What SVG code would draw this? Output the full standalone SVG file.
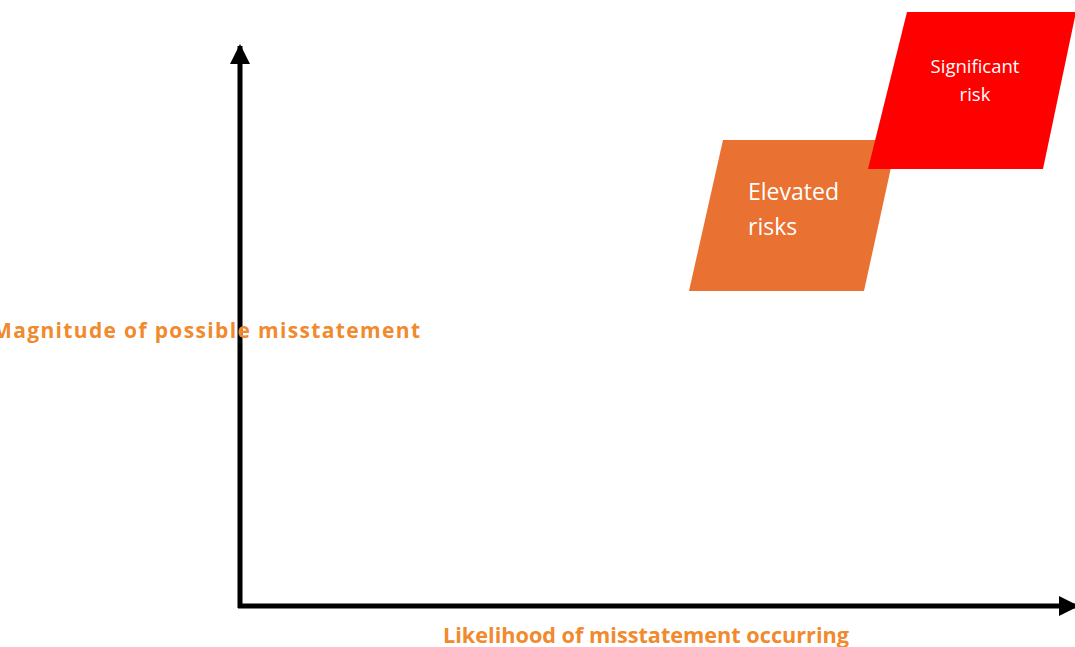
<svg xmlns="http://www.w3.org/2000/svg" width="1075" height="647" viewBox="0 0 1075 647">
<style>
.axis{stroke:#000;stroke-width:5;fill:none}
.lbl{font-family:"Open Sans","Liberation Sans",sans-serif;font-weight:bold;fill:#F08A2D;font-size:21px}
.wt{font-family:"Open Sans","Liberation Sans",sans-serif;fill:#fff}
</style>
<defs>
<marker id="ah" viewBox="0 0 10 10" refX="9" refY="5" markerWidth="4" markerHeight="4" orient="auto" markerUnits="strokeWidth">
<path d="M0,0 L10,5 L0,10 z" fill="#000"/>
</marker>
</defs>
<rect width="1075" height="647" fill="#fff"/>
<g id="connectors">
<line class="axis" x1="240" y1="608" x2="240" y2="46" marker-end="url(#ah)"/>
<line class="axis" x1="238" y1="606" x2="1077" y2="606" marker-end="url(#ah)"/>
</g>
<g id="elevated">
<polygon points="723,140 897,140 864,291 689,291" fill="#E97132"/>
<text class="wt" font-size="23" x="748" y="200">Elevated</text>
<text class="wt" font-size="23" x="748" y="235">risks</text>
</g>
<g id="significant">
<polygon points="907,12 1076,12 1043,169 868,169" fill="#FF0000"/>
<text class="wt" font-size="18.5" x="975" y="73" text-anchor="middle">Significant</text>
<text class="wt" font-size="18.5" x="975" y="101" text-anchor="middle">risk</text>
</g>
<g id="y-label">
<text class="lbl" x="-8" y="338" textLength="428" lengthAdjust="spacing">Magnitude of possible misstatement</text>
</g>
<g id="x-label">
<text class="lbl" x="443" y="643" textLength="406" lengthAdjust="spacingAndGlyphs">Likelihood of misstatement occurring</text>
</g>
</svg>
